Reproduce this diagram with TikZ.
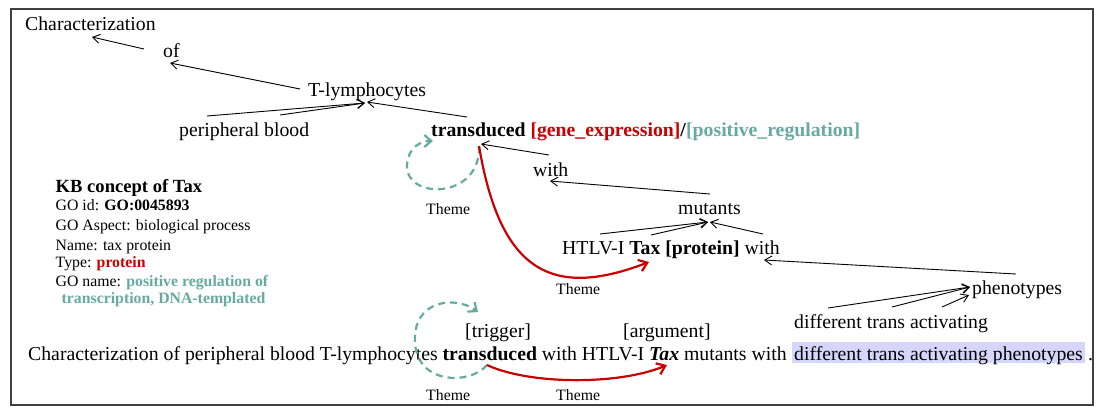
\documentclass[tikz,border=0pt]{standalone}
\usepackage{fontspec}
\setmainfont{Liberation Serif}
\usetikzlibrary{arrows.meta}
\definecolor{bratred}{RGB}{204,0,0}
\definecolor{bratteal}{RGB}{102,170,160}
\definecolor{hilite}{RGB}{214,214,250}
\begin{document}
\begin{tikzpicture}[x=1bp,y=-1bp,
  txt/.style={anchor=base west,inner sep=0pt,font=\fontsize{19.75bp}{22bp}\selectfont},
  lbl/.style={anchor=base west,inner sep=0pt,font=\fontsize{15.8bp}{18bp}\selectfont},
  kbtitle/.style={anchor=base west,inner sep=0pt,font=\fontsize{18.6bp}{20bp}\selectfont\bfseries},
  dep/.style={draw=black,line width=0.9bp,-{Straight Barb[length=7bp,width=9bp]}},
  redarr/.style={draw=bratred,line width=2.2bp,-{Straight Barb[length=8bp,width=12bp,line width=2.2bp]}},
  loop/.style={draw=bratteal,line width=2.2bp,dash pattern=on 7bp off 5bp,-{Straight Barb[length=7bp,width=12bp,line width=2.2bp]}}]
\useasboundingbox (0,0) rectangle (1099,412);
\draw[line width=1.5bp,black!75] (11,9) rectangle (1093,405);

% tree words
\node[txt] (nchar) at (25,30) {Characterization};
\node[txt] (nof) at (163,57) {of};
\node[txt] (ntly) at (308,96) {T-lymphocytes};
\node[txt] (npb) at (179,136) {peripheral blood};
\node[txt] (ntrans) at (431,136) {\textbf{transduced} \textcolor{bratred}{\textbf{[gene\_expression]}}\textbf{/}\textcolor{bratteal}{\textbf{[positive\_regulation]}}};
\node[txt] (nwith) at (533,176) {with};
\node[txt] (nmut) at (678,214) {mutants};
\node[txt] (nhtlv) at (562,254) {HTLV-I \textbf{Tax [protein]} with};
\node[txt] (nphen) at (972,294) {phenotypes};
\node[txt] (ndiff) at (794,328) {different trans activating};

% endpoints
\coordinate (cOfS) at (144,49);   \coordinate (cCharE) at (92,37);
\coordinate (cTlyS) at (300,89);  \coordinate (cOfE) at (170,63);
\coordinate (cPerS) at (207,116); \coordinate (cBloS) at (280,115);
\coordinate (cTlyE) at (365,103);
\coordinate (cTrS) at (467,117);  \coordinate (cTlyE2) at (367,102);
\coordinate (cWithS) at (549,155); \coordinate (cTrE) at (481,144);
\coordinate (cMutS) at (710,194); \coordinate (cWithE) at (550,181);
\coordinate (cHtS) at (600,234);  \coordinate (cTaxS) at (651,235);
\coordinate (cMutE) at (708,222); \coordinate (cW2S) at (763,234);
\coordinate (cMutE2) at (710,222);
\coordinate (cPhS) at (1016,274); \coordinate (cW2E) at (764,260);
\coordinate (cDiS) at (828,308);  \coordinate (cTrnS) at (892,307);
\coordinate (cAcS) at (942,307);  \coordinate (cPhE) at (970,287);
\coordinate (cPhE2) at (969,295);

\draw[dep] (cOfS) -- (cCharE);
\draw[dep] (cTlyS) -- (cOfE);
\draw[dep] (cPerS) -- (cTlyE);
\draw[dep] (cBloS) -- (cTlyE);
\draw[dep] (cTrS) -- (cTlyE2);
\draw[dep] (cWithS) -- (cTrE);
\draw[dep] (cMutS) -- (cWithE);
\draw[dep] (cHtS) -- (cMutE);
\draw[dep] (cTaxS) -- (cMutE);
\draw[dep] (cW2S) -- (cMutE2);
\draw[dep] (cPhS) -- (cW2E);
\draw[dep] (cDiS) -- (cPhE);
\draw[dep] (cTrnS) -- (cPhE);
\draw[dep] (cAcS) -- (cPhE2);

% top loop and theme arc
\coordinate (cTrBot) at (479,146);
\coordinate (cLoopL) at (407,165);
\coordinate (cLoopE) at (433,141);
\coordinate (cTaxE) at (649,262);
\draw[loop] (cTrBot) .. controls (481,200) and (405,200) .. (cLoopL) .. controls (408,148) and (420,141) .. (cLoopE);
\draw[redarr] (cTrBot) .. controls (500,270) and (550,300) .. (cTaxE);
\node[lbl] (th1) at (426,214) {Theme};
\node[lbl] (th2) at (556,294) {Theme};

% KB concept box
\node[kbtitle] (kb0) at (55.5,192) {KB concept of Tax};
\node[lbl] (kb1) at (55.5,210) {GO id: \textbf{GO:0045893}};
\node[lbl] (kb2) at (55.5,230.5) {GO Aspect: biological process};
\node[lbl] (kb3) at (55.5,250) {Name: tax protein};
\node[lbl] (kb4) at (55.5,267.5) {Type: \textcolor{bratred}{\textbf{protein}}};
\node[lbl] (kb5) at (55.5,286.5) {GO name: \textcolor{bratteal}{\textbf{positive regulation of}}};
\node[lbl] (kb6) at (61.5,303.5) {\textcolor{bratteal}{\textbf{transcription, DNA-templated}}};

% sentence
\fill[hilite] (792,342) rectangle (1085,363);
\node[txt] (trig) at (465,337) {[trigger]};
\node[txt] (arg) at (623,337) {[argument]};
\node[txt] (sent1) at (28,360) {Characterization of peripheral blood T-lymphocytes \textbf{transduced} with HTLV-I \textbf{\textit{Tax}} mutants with};
\node[txt] (sent2) at (794,360) {different trans activating phenotypes};
\node[txt] (sentdot) at (1088,360) {.};

\coordinate (cSTr) at (487,365);
\coordinate (cSL) at (415,343);
\coordinate (cSE) at (478,312);
\coordinate (cSTax) at (667,365);
\draw[loop] (cSTr) .. controls (470,385) and (418,385) .. (cSL) .. controls (412,300) and (455,295) .. (cSE);
\draw[redarr] (cSTr) .. controls (530,385) and (620,385) .. (cSTax);
\node[lbl] (th3) at (426,400) {Theme};
\node[lbl] (th4) at (556,400) {Theme};
\end{tikzpicture}
\end{document}
